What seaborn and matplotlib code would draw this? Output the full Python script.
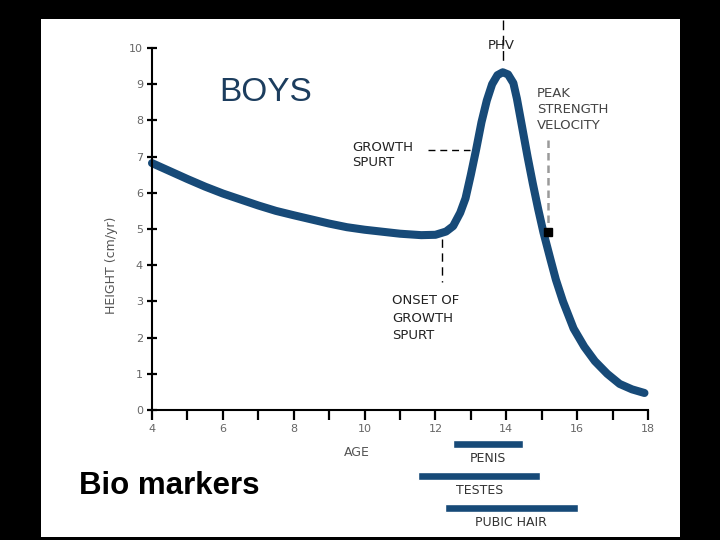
import matplotlib
matplotlib.use("Agg")
import matplotlib.pyplot as plt
from matplotlib.patches import Rectangle
import seaborn as sns

# curve (age, growth rate)
age = [4.0, 4.5, 5.0, 5.5, 6.0, 7.0, 7.5, 8.0, 9.0, 9.5, 10.0, 11.0, 11.6,
       12.0, 12.3, 12.5, 12.7, 12.85, 13.0, 13.15, 13.3, 13.45, 13.6, 13.75,
       13.9, 14.05, 14.2, 14.3, 14.45, 14.6, 14.75, 14.9, 15.05, 15.25,
       15.4, 15.6, 15.9, 16.2, 16.5, 16.85, 17.2, 17.55, 17.9]
height = [6.82, 6.6, 6.38, 6.17, 5.98, 5.65, 5.5, 5.38, 5.15, 5.05, 4.98,
          4.87, 4.83, 4.84, 4.93, 5.08, 5.45, 5.85, 6.5, 7.2, 7.95, 8.55,
          9.0, 9.25, 9.33, 9.27, 9.03, 8.6, 7.8, 7.0, 6.25, 5.55, 4.9, 4.15,
          3.6, 3.0, 2.25, 1.75, 1.35, 1.0, 0.72, 0.57, 0.47]

# bio markers (age ranges)
markers = ["PENIS", "TESTES", "PUBIC HAIR"]
marker_start = [12.49, 11.52, 12.27]
marker_end = [14.48, 14.95, 16.02]

x_ticks = [4, 6, 8, 10, 12, 14, 16, 18]
y_ticks = [0, 1, 2, 3, 4, 5, 6, 7, 8, 9, 10]

blue = "#174a78"
txt = "#222222"

sns.set_style("ticks")
plt.rcParams["font.family"] = ["DejaVu Sans"]

fig = plt.figure(figsize=(7.2, 5.4), dpi=100, facecolor="black")
fig.patches.append(Rectangle((41 / 720, 3 / 540), 639 / 720, 518 / 540,
                             transform=fig.transFigure, facecolor="white",
                             edgecolor="none", zorder=-10))

ax = fig.add_axes([152 / 720, 1 - 410 / 540, 496 / 720, 362 / 540])
ax.set_facecolor("none")
sns.lineplot(x=age, y=height, ax=ax, color=blue, linewidth=5.8,
             solid_capstyle="round", solid_joinstyle="round", clip_on=False)

ax.set_xlim(4, 18)
ax.set_ylim(0, 10)
ax.set_xticks(x_ticks)
ax.set_xticks([5, 7, 9, 11, 13, 15, 17], minor=True)
ax.set_yticks(y_ticks)
sns.despine(ax=ax)
for s in ["left", "bottom"]:
    ax.spines[s].set_linewidth(1.5)
    ax.spines[s].set_color("black")
ax.tick_params(axis="x", which="both", direction="out", length=7, width=1.6,
               color="black", labelsize=8, labelcolor="#666666", pad=3)
ax.tick_params(axis="y", direction="inout", length=7, width=1.6,
               color="black", labelsize=8, labelcolor="#666666", pad=3)

ax.set_xlabel("AGE", fontsize=9, color="#555555")
ax.xaxis.set_label_coords((357 - 152) / 496, (410 - 446) / 362)
ax.set_ylabel("HEIGHT (cm/yr)", fontsize=9, color="#555555")
ax.yaxis.set_label_coords((118 - 152) / 496, (410 - 265) / 362)

# annotations
ax.text(7.2, 8.78, "BOYS", fontsize=24, color="#1c3d5e", ha="center",
        va="center", family="Liberation Sans")
ax.text(9.645, 7.04, "GROWTH\nSPURT", fontsize=9.5, color=txt, ha="left",
        va="center", linespacing=1.25)
ax.plot([11.79, 12.98], [7.18, 7.18], color="black", lw=1,
        dashes=(5, 3.5))
ax.text(10.77, 2.54, "ONSET OF\nGROWTH\nSPURT", fontsize=9.5, color=txt,
        ha="left", va="center", linespacing=1.45)
ax.plot([12.19, 12.19], [4.72, 3.54], color="black", lw=1, dashes=(6, 4))
ax.text(13.87, 10.08, "PHV", fontsize=9.5, color=txt, ha="center",
        va="center", clip_on=False)
ax.plot([13.91, 13.91], [10.77, 9.6], color="black", lw=1, dashes=(7, 4),
        clip_on=False)
ax.text(14.86, 8.31, "PEAK\nSTRENGTH\nVELOCITY", fontsize=9.5,
        color="#444444", ha="left", va="center", linespacing=1.3)
ax.plot([15.19, 15.19], [7.46, 5.05], color="#9a9a9a", lw=1.8,
        dashes=(3, 2))
ax.plot([15.18], [4.92], marker="s", markersize=6, color="black")

# bio marker bars
ax2 = fig.add_axes([152 / 720, 1 - 530 / 540, 496 / 720, 98 / 540])
ax2.set_xlim(4, 18)
ax2.set_ylim(2.69, -0.375)
ax2.axis("off")
rows = list(range(len(markers)))
widths = [e - s for s, e in zip(marker_start, marker_end)]
ax2.barh(rows, widths, left=marker_start, height=0.25, color=blue)
for r, name, s, e in zip(rows, markers, marker_start, marker_end):
    ax2.text((s + e) / 2, r + 0.44, name, fontsize=9, color="#333333",
             ha="center", va="center")

fig.text(79 / 720, 1 - 494 / 540, "Bio markers", fontsize=22.5,
         fontweight="bold", color="black", family="Liberation Sans",
         ha="left", va="baseline")

fig.savefig("out.png", dpi=100, facecolor=fig.get_facecolor())
